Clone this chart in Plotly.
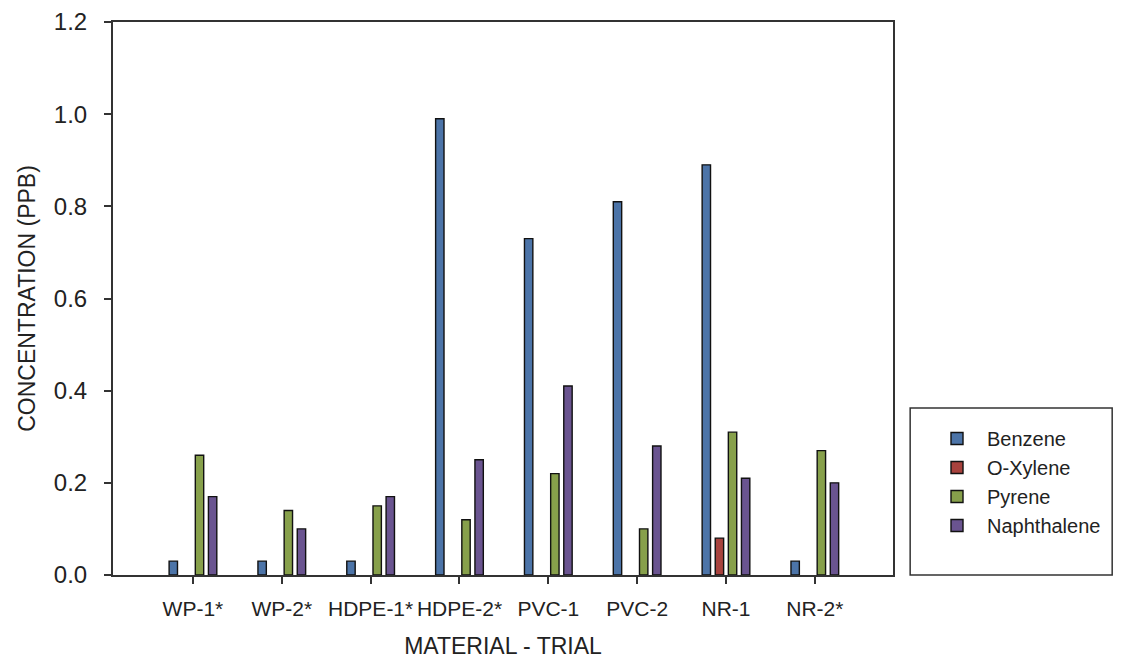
import plotly.graph_objects as go

categories = ["WP-1*", "WP-2*", "HDPE-1*", "HDPE-2*", "PVC-1", "PVC-2", "NR-1", "NR-2*"]
benzene = [0.03, 0.03, 0.03, 0.99, 0.73, 0.81, 0.89, 0.03]
o_xylene = [None, None, None, None, None, None, 0.08, None]
pyrene = [0.26, 0.14, 0.15, 0.12, 0.22, 0.10, 0.31, 0.27]
naphthalene = [0.17, 0.10, 0.17, 0.25, 0.41, 0.28, 0.21, 0.20]
y_ticks = [0.0, 0.2, 0.4, 0.6, 0.8, 1.0, 1.2]

series = [
    ("Benzene", benzene, "#4C74A8"),
    ("O-Xylene", o_xylene, "#A8423D"),
    ("Pyrene", pyrene, "#87A04B"),
    ("Naphthalene", naphthalene, "#6A5490"),
]

FONT = "Liberation Sans, Arial, sans-serif"
AX = "#333333"
TXT = "#222222"

fig = go.Figure()
for name, vals, col in series:
    fig.add_trace(go.Bar(
        x=categories, y=vals, name=name,
        marker=dict(color=col, line=dict(color="#111111", width=1.4)),
    ))

fig.update_layout(
    width=1106, height=651,
    margin=dict(l=105, r=221, t=14, b=84, autoexpand=False),
    paper_bgcolor="white", plot_bgcolor="white",
    barmode="group", bargap=0.41, bargroupgap=0.36,
    font=dict(family=FONT, color=TXT),
    showlegend=True,
    legend=dict(
        x=1.0436, y=0.282, xanchor="left", yanchor="top",
        bgcolor="rgba(0,0,0,0)", borderwidth=0,
        font=dict(size=20, family=FONT, color=TXT),
        itemwidth=50, tracegroupgap=0,
    ),
    shapes=[dict(
        type="rect", xref="paper", yref="paper",
        x0=1.022, x1=1.281, y0=0, y1=0.302,
        line=dict(color=AX, width=1.5), fillcolor="rgba(0,0,0,0)",
    )],
)

fig.update_xaxes(
    range=[-0.9, 7.88], automargin=False,
    showline=True, linecolor=AX, linewidth=2, mirror=True,
    ticks="outside", ticklen=7, tickwidth=2, tickcolor=AX,
    tickfont=dict(size=21, family=FONT, color=TXT),
    ticklabelstandoff=7,
    showgrid=False, zeroline=False,
    title=dict(text="MATERIAL - TRIAL", font=dict(size=23, family=FONT, color=TXT), standoff=30),
)
fig.update_yaxes(
    range=[0, 1.2], tickvals=y_ticks, tickformat=".1f", automargin=False,
    showline=True, linecolor=AX, linewidth=2, mirror=True,
    ticks="outside", ticklen=7, tickwidth=2, tickcolor=AX,
    tickfont=dict(size=24, family=FONT, color=TXT),
    ticklabelstandoff=12,
    showgrid=False, zeroline=False,
    title=dict(text="CONCENTRATION (PPB)", font=dict(size=23, family=FONT, color=TXT), standoff=12),
)

fig.write_html("out.html")
